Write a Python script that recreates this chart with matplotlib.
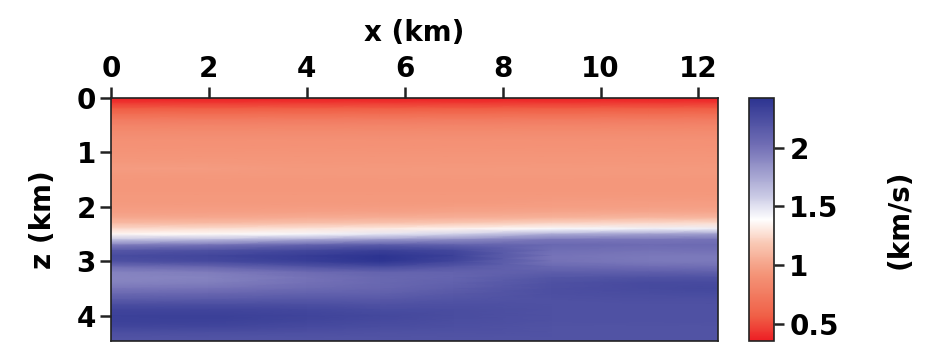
import numpy as np
import matplotlib
matplotlib.use("Agg")
import matplotlib.pyplot as plt
from matplotlib.colors import LinearSegmentedColormap

# Velocity model (km/s): one depth profile per lateral position
x_km = [0.0, 2.0, 4.0, 5.5, 7.0, 9.0, 11.0, 12.4]
z_km = np.round(np.arange(0.0, 4.55, 0.1), 2)  # 0.0 ... 4.5 km, 46 samples

v_x00 = [0.36, 0.45, 0.56, 0.66, 0.75, 0.81, 0.85, 0.88, 0.90, 0.91, 0.92,
         0.93, 0.95, 0.96, 0.95, 0.94, 0.94, 0.94, 0.95, 0.95, 0.96,
         0.98, 1.03, 1.12, 1.25, 1.36, 1.62, 1.95, 2.18, 2.26, 2.22,
         2.02, 1.92, 1.90, 1.92, 1.98, 2.06, 2.15, 2.25, 2.31, 2.33,
         2.33, 2.30, 2.24, 2.21, 2.21]
v_x02 = [0.36, 0.45, 0.56, 0.66, 0.75, 0.81, 0.85, 0.88, 0.90, 0.91, 0.92,
         0.93, 0.95, 0.96, 0.95, 0.94, 0.94, 0.94, 0.95, 0.95, 0.96,
         0.98, 1.03, 1.12, 1.26, 1.37, 1.66, 2.00, 2.22, 2.30, 2.27,
         2.08, 1.95, 1.92, 1.94, 2.00, 2.08, 2.16, 2.25, 2.31, 2.34,
         2.33, 2.30, 2.24, 2.21, 2.21]
v_x04 = [0.36, 0.45, 0.56, 0.66, 0.75, 0.81, 0.85, 0.88, 0.90, 0.91, 0.92,
         0.93, 0.94, 0.95, 0.95, 0.94, 0.94, 0.94, 0.95, 0.95, 0.96,
         0.99, 1.04, 1.14, 1.29, 1.42, 1.75, 2.10, 2.28, 2.36, 2.35,
         2.20, 2.04, 2.00, 2.01, 2.05, 2.11, 2.18, 2.24, 2.29, 2.31,
         2.30, 2.27, 2.23, 2.21, 2.21]
v_x55 = [0.36, 0.45, 0.56, 0.66, 0.75, 0.81, 0.85, 0.88, 0.90, 0.91, 0.92,
         0.93, 0.94, 0.95, 0.95, 0.94, 0.94, 0.94, 0.95, 0.95, 0.96,
         0.99, 1.05, 1.16, 1.31, 1.48, 1.82, 2.15, 2.34, 2.42, 2.41,
         2.26, 2.10, 2.06, 2.06, 2.08, 2.12, 2.17, 2.22, 2.26, 2.28,
         2.27, 2.25, 2.22, 2.21, 2.21]
v_x07 = [0.36, 0.45, 0.56, 0.66, 0.75, 0.81, 0.85, 0.88, 0.90, 0.91, 0.92,
         0.93, 0.94, 0.95, 0.95, 0.94, 0.94, 0.94, 0.95, 0.95, 0.97,
         1.00, 1.06, 1.18, 1.34, 1.55, 1.88, 2.12, 2.28, 2.33, 2.30,
         2.18, 2.10, 2.09, 2.11, 2.14, 2.17, 2.20, 2.23, 2.25, 2.25,
         2.24, 2.23, 2.22, 2.21, 2.21]
v_x09 = [0.36, 0.45, 0.56, 0.66, 0.75, 0.81, 0.85, 0.88, 0.90, 0.91, 0.92,
         0.93, 0.94, 0.95, 0.95, 0.94, 0.94, 0.94, 0.95, 0.96, 0.97,
         1.01, 1.08, 1.22, 1.41, 1.72, 1.98, 2.06, 2.02, 1.99, 2.00,
         2.06, 2.13, 2.19, 2.22, 2.23, 2.23, 2.22, 2.22, 2.22, 2.22,
         2.22, 2.21, 2.21, 2.21, 2.21]
v_x11 = [0.36, 0.45, 0.56, 0.66, 0.75, 0.81, 0.85, 0.88, 0.90, 0.91, 0.92,
         0.93, 0.94, 0.95, 0.95, 0.94, 0.94, 0.94, 0.95, 0.96, 0.98,
         1.02, 1.10, 1.25, 1.44, 1.78, 1.98, 2.04, 2.00, 1.97, 1.97,
         2.03, 2.13, 2.22, 2.27, 2.27, 2.25, 2.23, 2.22, 2.22, 2.22,
         2.22, 2.21, 2.21, 2.21, 2.21]
v_x124 = [0.36, 0.45, 0.56, 0.66, 0.75, 0.81, 0.85, 0.88, 0.90, 0.91, 0.92,
          0.93, 0.94, 0.95, 0.95, 0.94, 0.94, 0.94, 0.95, 0.96, 0.98,
          1.02, 1.10, 1.26, 1.45, 1.80, 2.00, 2.05, 2.01, 1.97, 1.97,
          2.02, 2.12, 2.22, 2.27, 2.28, 2.26, 2.23, 2.22, 2.22, 2.22,
          2.22, 2.21, 2.21, 2.21, 2.21]

x_ticks = [0, 2, 4, 6, 8, 10, 12]
z_ticks = [0, 1, 2, 3, 4]
cbar_ticks = [0.5, 1.0, 1.5, 2.0]
cbar_labels = ["0.5", "1", "1.5", "2"]
v_min, v_max = 0.352, 2.424
x_max, z_max = 12.4, 4.46

vel = np.column_stack([v_x00, v_x02, v_x04, v_x55, v_x07, v_x09, v_x11, v_x124])

# red - salmon - white - lavender - navy palette
nodes = [
    (0.00, (237, 30, 36)),
    (0.10, (240, 95, 70)),
    (0.28, (244, 150, 122)),
    (0.40, (249, 200, 180)),
    (0.50, (255, 255, 255)),
    (0.60, (200, 200, 228)),
    (0.80, (115, 112, 182)),
    (1.00, (45, 52, 145)),
]
cmap = LinearSegmentedColormap.from_list(
    "vel", [(p, tuple(c / 255 for c in rgb)) for p, rgb in nodes])

FS = 20
plt.rcParams["font.family"] = ["DejaVu Sans"]
plt.rcParams["font.weight"] = "bold"
fig = plt.figure(figsize=(9.28, 3.45), dpi=100)
W, H = 928, 345
ax = fig.add_axes([111 / W, 1 - 341 / H, 607 / W, 243 / H])
cax = fig.add_axes([749 / W, 1 - 341 / H, 25 / W, 243 / H])

mesh = ax.pcolormesh(x_km, z_km, vel, shading="gouraud", cmap=cmap,
                     vmin=v_min, vmax=v_max, rasterized=True)
ax.set_xlim(0, x_max)
ax.set_ylim(z_max, 0)

ax.xaxis.set_label_position("top")
ax.xaxis.tick_top()
ax.set_xticks(x_ticks)
ax.set_xticklabels([str(t) for t in x_ticks])
ax.set_yticks(z_ticks)
ax.set_yticklabels([str(t) for t in z_ticks])
ax.tick_params(axis="both", labelsize=FS, length=8, width=1.8,
               direction="out", pad=3, color="#222222")
ax.set_xlabel("x (km)", fontsize=FS, fontweight="bold", labelpad=10)
ax.set_ylabel("z (km)", fontsize=FS, fontweight="bold", labelpad=14)
for s in ax.spines.values():
    s.set_linewidth(1.2)
    s.set_color("#222222")

cb = fig.colorbar(mesh, cax=cax, ticks=cbar_ticks)
cb.ax.set_yticklabels(cbar_labels)
cb.ax.tick_params(labelsize=FS, length=7, width=1.8, pad=4, color="#222222")
cb.outline.set_linewidth(1.2)
cb.outline.set_edgecolor("#222222")
cb.set_label("(km/s)", fontsize=FS, fontweight="bold", labelpad=34)

fig.savefig("out.png", dpi=100)
